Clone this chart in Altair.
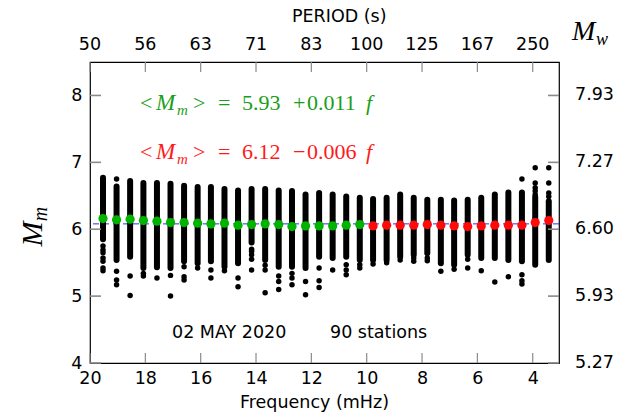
import altair as alt
import pandas as pd

# ---------------- data ----------------
freq = [19.53, 19.04, 18.55, 18.07, 17.58, 17.09, 16.60, 16.11, 15.63, 15.14,
        14.65, 14.16, 13.67, 13.18, 12.70, 12.21, 11.72, 11.23, 10.74, 10.25,
        9.77, 9.28, 8.79, 8.30, 7.81, 7.32, 6.84, 6.35, 5.86, 5.37,
        4.88, 4.39, 3.91, 3.42]
col_hi = [6.77, 6.64, 6.72, 6.69, 6.69, 6.68, 6.65, 6.63, 6.63, 6.60,
          6.58, 6.60, 6.60, 6.58, 6.57, 6.52, 6.54, 6.52, 6.49, 6.47,
          6.45, 6.47, 6.52, 6.47, 6.44, 6.44, 6.43, 6.44, 6.47, 6.52,
          6.55, 6.55, 6.48, 6.42]
col_lo = [5.85, 5.54, 5.59, 5.42, 5.43, 5.42, 5.52, 5.49, 5.52, 5.44,
          5.49, 5.80, 5.54, 5.44, 5.44, 5.42, 5.59, 5.57, 5.59, 5.54,
          5.54, 5.54, 5.59, 5.62, 5.64, 5.49, 5.47, 5.62, 5.57, 5.57,
          5.54, 5.52, 5.47, 5.54]

out_f = [19.53, 19.53, 19.53, 19.53, 19.53, 19.53, 19.53,
         19.04, 19.04, 19.04, 19.04,
         18.55, 18.55, 18.07, 18.07, 17.58, 17.09, 17.09,
         16.60, 16.60, 16.60, 16.11, 15.63, 15.63, 15.14, 14.65, 14.65,
         14.16, 14.16, 14.16, 14.16, 14.16,
         13.67, 13.67, 13.67, 13.18, 13.18, 13.18,
         12.70, 12.70, 12.70, 12.21, 12.21, 11.72, 11.72, 11.72, 11.23,
         10.74, 10.74, 10.74, 10.25, 10.25, 9.77, 9.28, 8.79, 8.30, 8.30,
         7.81, 7.81, 7.32, 6.84, 6.35, 6.35, 5.86, 5.37, 4.88,
         4.39, 4.39, 4.39, 4.39,
         3.91, 3.91, 3.91, 3.91, 3.91,
         3.42, 3.42, 3.42, 3.42]
out_m = [5.75, 5.69, 5.65, 5.57, 5.52, 5.42, 5.38,
         6.75, 5.37, 5.24, 5.17,
         5.30, 5.01, 5.34, 5.30, 5.27, 5.31, 5.00,
         5.44, 5.29, 5.24, 5.42, 5.39, 5.27, 5.38, 5.27, 5.14,
         5.70, 5.67, 5.62, 5.55, 5.39,
         5.46, 5.39, 5.05, 5.30, 5.22, 5.10,
         5.34, 5.27, 5.17, 5.22, 5.02, 5.42, 5.23, 5.13, 5.39,
         5.47, 5.39, 5.32, 5.47, 5.42, 5.48, 5.50, 5.54, 5.57, 5.52,
         5.57, 5.53, 5.37, 5.40, 5.55, 5.42, 5.38, 5.21, 5.29,
         6.75, 5.32, 5.23, 5.18,
         6.92, 6.69, 6.62, 6.57, 6.52,
         6.92, 6.69, 6.54, 6.49]

green_f = freq[:20]
green_m = [6.16, 6.14, 6.15, 6.13, 6.12, 6.10, 6.10, 6.09, 6.08, 6.09,
           6.06, 6.07, 6.08, 6.07, 6.04, 6.05, 6.05, 6.05, 6.06, 6.07]
red_f = freq[20:]
red_m = [6.05, 6.06, 6.06, 6.06, 6.07, 6.06, 6.05, 6.04, 6.05, 6.06,
         6.06, 6.06, 6.10, 6.13]

ref_mm = 6.08

freq_ticks = [20, 18, 16, 14, 12, 10, 8, 6, 4]
period_labels = ["50", "56", "63", "71", "83", "100", "125", "167", "250"]
mm_ticks = [4, 5, 6, 7, 8]
mw_labels = ["5.27", "5.93", "6.60", "7.27", "7.93"]

# ---------------- layout ----------------
W, H = 469, 301
SANS = "DejaVu Sans"
SERIF = "Liberation Serif"
TICK_COL = "#8a8a8a"

xs = alt.Scale(domain=[3.05, 20], reverse=True, nice=False, zero=False)
ys = alt.Scale(domain=[4, 8.5], nice=False, zero=False)

x_axis = alt.Axis(values=freq_ticks, ticks=False, domain=False, grid=False, title=None,
                  labelFont=SANS, labelFontSize=17.5, labelColor="black",
                  labelPadding=6, labelFlush=False, labelOverlap=False, orient="bottom")
y_axis = alt.Axis(values=mm_ticks, ticks=False, domain=False, grid=False, title=None,
                  labelFont=SANS, labelFontSize=17.5, labelColor="black",
                  labelPadding=8, labelFlush=False, labelOverlap=False, orient="left")

cols = pd.DataFrame({"f": freq, "lo": col_lo, "hi": col_hi})
outs = pd.DataFrame({"f": out_f, "m": out_m})
greens = pd.DataFrame({"f": green_f, "m": green_m})
reds = pd.DataFrame({"f": red_f, "m": red_m})
one = pd.DataFrame({"a": [0]})

X = alt.X("f:Q", scale=xs, axis=x_axis)

ref_line = alt.Chart(pd.DataFrame({"m": [ref_mm]})).mark_rule(
    color="#2b2bff", strokeDash=[6, 4], strokeWidth=1
).encode(y=alt.Y("m:Q", scale=ys, axis=y_axis))

columns = alt.Chart(cols).mark_rule(
    color="black", strokeWidth=6, strokeCap="round"
).encode(x=X, y=alt.Y("lo:Q", scale=ys, axis=y_axis), y2="hi:Q")

outliers = alt.Chart(outs).mark_circle(color="black", size=30, opacity=1).encode(
    x=X, y=alt.Y("m:Q", scale=ys, axis=y_axis))

gpts = alt.Chart(greens).mark_circle(color="#00b300", size=85, opacity=1).encode(
    x=X, y=alt.Y("m:Q", scale=ys, axis=y_axis))
rpts = alt.Chart(reds).mark_circle(color="#ff0a0a", size=85, opacity=1).encode(
    x=X, y=alt.Y("m:Q", scale=ys, axis=y_axis))

xt = pd.DataFrame({"f": freq_ticks, "p": period_labels})
yt = pd.DataFrame({"m": mm_ticks, "w": mw_labels})

tick_b = alt.Chart(xt).mark_rule(color=TICK_COL, strokeWidth=1.2).encode(
    x=X, y=alt.value(H), y2=alt.value(H - 10))
tick_t = alt.Chart(xt).mark_rule(color=TICK_COL, strokeWidth=1.2).encode(
    x=X, y=alt.value(0), y2=alt.value(10))
tick_l = alt.Chart(yt).mark_rule(color=TICK_COL, strokeWidth=1.6).encode(
    y=alt.Y("m:Q", scale=ys, axis=y_axis), x=alt.value(0), x2=alt.value(11))
tick_r = alt.Chart(yt).mark_rule(color=TICK_COL, strokeWidth=1.6).encode(
    y=alt.Y("m:Q", scale=ys, axis=y_axis), x=alt.value(W), x2=alt.value(W - 11))

top_labels = alt.Chart(xt).mark_text(
    font=SANS, fontSize=17.5, color="black", baseline="middle", align="center"
).encode(x=X, y=alt.value(-17), text="p:N")
right_labels = alt.Chart(yt).mark_text(
    font=SANS, fontSize=17.5, color="black", baseline="middle", align="left"
).encode(y=alt.Y("m:Q", scale=ys, axis=y_axis), x=alt.value(W + 16), text="w:N")


def label(txt, x, y, size, color="black", font=SANS, style="normal",
          angle=0, align="left", baseline="middle"):
    return alt.Chart(one).mark_text(
        text=txt, font=font, fontSize=size, fontStyle=style, color=color,
        align=align, baseline=baseline, angle=angle
    ).encode(x=alt.value(x), y=alt.value(y))


GREEN = "#1a9e1a"
RED = "#ff1a1a"


def equation(y, color, const, sign, slope):
    return [
        label("<", 50, y, 22, color, SERIF),
        label("M", 66, y, 23, color, SERIF, "italic"),
        label("m", 87, y + 7, 15, color, SERIF, "italic"),
        label(">", 103, y, 22, color, SERIF),
        label("=", 128, y, 22, color, SERIF),
        label(const, 152, y, 22, color, SERIF),
        label(sign, 203, y, 22, color, SERIF),
        label(slope, 217, y, 22, color, SERIF),
        label("f", 276, y, 22, color, SERIF, "italic"),
    ]


annots = (
    equation(41, GREEN, "5.93", "+", "0.011")
    + equation(90, RED, "6.12", "\u2212", "0.006")
    + [
        label("02 MAY 2020", 82, 271, 17.5),
        label("90 stations", 240, 271, 17.5),
        label("PERIOD  (s)", 202, -45, 17.5),
        label("Frequency (mHz)", 150, 341, 17.5),
        label("M", 482, -30, 28, "black", SERIF, "italic"),
        label("w", 506, -22, 18, "black", SERIF, "italic"),
        label("M", -57, 172, 30, "black", SERIF, "italic", angle=270, align="center"),
        label("m", -49, 152, 20, "black", SERIF, "italic", angle=270, align="center"),
    ]
)

chart = alt.layer(
    ref_line, columns, outliers, gpts, rpts,
    tick_b, tick_t, tick_l, tick_r, top_labels, right_labels, *annots
).properties(
    width=W, height=H,
    padding={"left": 90, "top": 62, "right": 66, "bottom": 53},
    autosize=alt.AutoSizeParams(type="none"),
    background="white",
).configure_view(stroke="black", strokeWidth=1.2)

chart.save("out.html", embed_options={"renderer": "svg", "actions": False})
